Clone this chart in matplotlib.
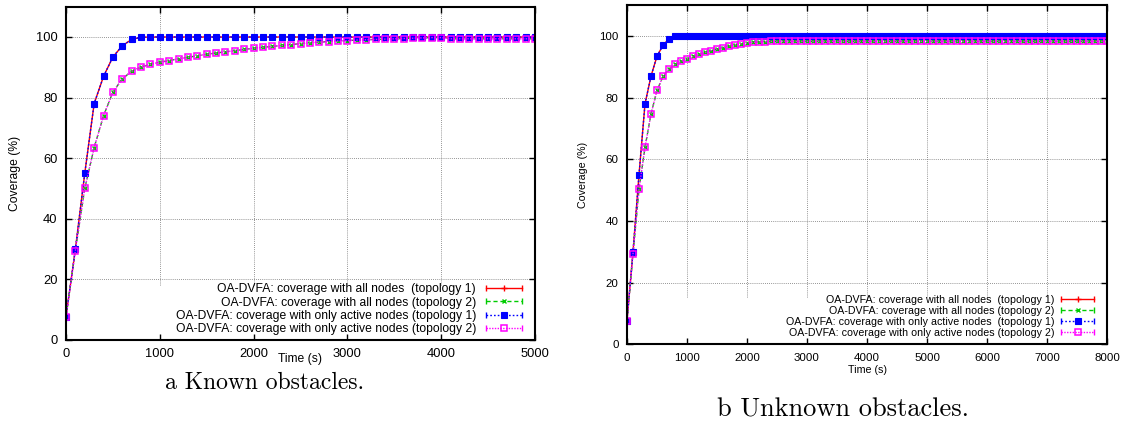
import numpy as np
import matplotlib
matplotlib.use("Agg")
import matplotlib.pyplot as plt
from matplotlib.lines import Line2D
from matplotlib.legend_handler import HandlerLine2D, HandlerTuple

plt.rcParams['font.family'] = ['Liberation Sans', 'DejaVu Sans']

# ---------------- data ----------------
time_known = np.arange(0, 5001, 100)
time_unknown = np.arange(0, 8001, 100)

known_topo1 = [7.7, 30.0, 55.0, 78.0, 87.0, 93.4, 97.1, 99.2, 99.9, 100.0,
               100.0, 100.0, 100.0, 100.0, 100.0, 100.0, 100.0, 100.0, 100.0, 100.0,
               100.0, 100.0, 100.0, 100.0, 100.0, 100.0, 100.0, 100.0, 100.0, 100.0,
               100.0, 100.0, 100.0, 100.0, 100.0, 100.0, 100.0, 100.0, 100.0, 100.0,
               100.0, 100.0, 100.0, 100.0, 100.0, 100.0, 100.0, 100.0, 100.0, 100.0,
               100.0]
known_topo2 = [7.7, 29.5, 50.0, 63.5, 74.0, 81.8, 86.2, 88.7, 90.1, 91.0,
               91.7, 92.2, 92.8, 93.3, 93.8, 94.3, 94.7, 95.1, 95.5, 95.9,
               96.3, 96.6, 96.9, 97.2, 97.5, 97.8, 98.1, 98.3, 98.5, 98.7,
               98.8, 99.0, 99.1, 99.2, 99.3, 99.4, 99.5, 99.6, 99.7, 99.8,
               99.8, 99.4, 99.4, 99.4, 99.4, 99.4, 99.4, 99.4, 99.4, 99.4,
               99.4]

unknown_topo1 = [7.7, 30.0, 55.0, 78.0, 87.0, 93.5, 97.0, 99.2, 99.9, 100.0,
                 100.0, 100.0, 100.0, 100.0, 100.0, 100.0, 100.0, 100.0, 100.0, 100.0,
                 100.0, 100.0, 100.0, 100.0, 100.0, 100.0, 100.0, 100.0, 100.0, 100.0,
                 100.0, 100.0, 100.0, 100.0, 100.0, 100.0, 100.0, 100.0, 100.0, 100.0,
                 100.0, 100.0, 100.0, 100.0, 100.0, 100.0, 100.0, 100.0, 100.0, 100.0,
                 100.0, 100.0, 100.0, 100.0, 100.0, 100.0, 100.0, 100.0, 100.0, 100.0,
                 100.0, 100.0, 100.0, 100.0, 100.0, 100.0, 100.0, 100.0, 100.0, 100.0,
                 100.0, 100.0, 100.0, 100.0, 100.0, 100.0, 100.0, 100.0, 100.0, 100.0,
                 100.0]
unknown_topo2 = [7.7, 29.3, 50.3, 63.9, 74.7, 82.4, 86.9, 89.4, 90.8, 91.8,
                 92.6, 93.4, 94.1, 94.7, 95.3, 95.8, 96.3, 96.8, 97.2, 97.5,
                 97.8, 98.0, 98.1, 98.2, 98.3, 98.3, 98.3, 98.3, 98.3, 98.3,
                 98.3, 98.3, 98.3, 98.3, 98.3, 98.3, 98.3, 98.3, 98.3, 98.3,
                 98.3, 98.3, 98.3, 98.3, 98.3, 98.3, 98.3, 98.3, 98.3, 98.3,
                 98.3, 98.3, 98.3, 98.3, 98.3, 98.3, 98.3, 98.3, 98.3, 98.3,
                 98.3, 98.3, 98.3, 98.3, 98.3, 98.3, 98.3, 98.3, 98.3, 98.3,
                 98.3, 98.3, 98.3, 98.3, 98.3, 98.3, 98.3, 98.3, 98.3, 98.3,
                 98.3]

labels_known = [
    "OA-DVFA: coverage with all nodes  (topology 1)",
    "OA-DVFA: coverage with all nodes (topology 2)",
    "OA-DVFA: coverage with only active nodes (topology 1)",
    "OA-DVFA: coverage with only active nodes (topology 2)",
]
labels_unknown = [
    "OA-DVFA: coverage with all nodes  (topology 1)",
    "OA-DVFA: coverage with all nodes (topology 2)",
    "OA-DVFA: coverage with only active nodes  (topology 1)",
    "OA-DVFA: coverage with only active nodes (topology 2)",
]
captions = ["a Known obstacles.", "b Unknown obstacles."]
yticks = [0, 20, 40, 60, 80, 100]

# ---------------- styles ----------------
RED, GREEN, BLUE, MAG = '#ff0000', '#00cc00', '#0000ff', '#ff00ff'
styles = [
    dict(color=RED, ls='-', lw=1.0, marker='+', ms=5, mew=1.0, mfc=RED),
    dict(color=GREEN, ls=(0, (3, 2)), lw=1.0, marker='x', ms=3.5, mew=1.0, mfc=GREEN),
    dict(color=BLUE, ls=(0, (1.2, 1.5)), lw=1.0, marker='s', ms=4.2, mew=0.8, mfc=BLUE),
    dict(color=MAG, ls=(0, (1, 1)), lw=1.0, marker='s', ms=4.5, mew=1.1, mfc='none'),
]

fig = plt.figure(figsize=(11.24, 4.26), dpi=100)
W, H = 1124, 426


def panel(rect, t, series, labels, xmax, xstep, fs, leg_anchor, grid_cut, hlen, htpad,
          ylpad, xlab_y):
    ax = fig.add_axes(rect)
    ax.set_xlim(0, xmax)
    ax.set_ylim(0, 110)
    xt = np.arange(0, xmax + 1, xstep)
    ax.set_xticks(xt)
    ax.set_yticks(yticks)
    # grid: horizontal full, vertical cut above the key
    for yv in yticks[1:]:
        ax.axhline(yv, color='0.45', lw=0.6, ls=(0, (1, 1.5)), zorder=0.5)
    ax.vlines(xt[1:-1], grid_cut, 110, color='0.45', lw=0.6, ls=(0, (1, 1.5)), zorder=0.5)
    handles = []
    hmap = {}
    for y, st, lab in zip(series, styles, labels):
        ax.plot(t, y, color=st['color'], ls=st['ls'], lw=st['lw'], marker=st['marker'],
                ms=st['ms'], mew=st['mew'], mfc=st['mfc'], mec=st['color'], zorder=2)
        cap = Line2D([], [], color=st['color'], ls=st['ls'], lw=st['lw'], marker='|',
                     ms=5, mew=1.0)
        mid = Line2D([], [], color=st['color'], ls='none', marker=st['marker'],
                     ms=st['ms'], mew=st['mew'], mfc=st['mfc'], mec=st['color'])
        hmap[cap] = HandlerLine2D(numpoints=2, marker_pad=0)
        hmap[mid] = HandlerLine2D(numpoints=1)
        handles.append((cap, mid))
    hmap[tuple] = HandlerTuple(ndivide=1)
    ax.legend(handles, labels, handler_map=hmap, loc='lower right',
              bbox_to_anchor=leg_anchor, frameon=False, markerfirst=False,
              fontsize=fs, borderpad=0, borderaxespad=0, labelspacing=0.1,
              handlelength=hlen, handletextpad=htpad)
    for sp in ax.spines.values():
        sp.set_linewidth(1.5)
    ax.tick_params(direction='in', length=4, width=1, top=True, right=True,
                   labelsize=fs + 0.6, pad=6)
    ax.set_xlabel("Time (s)", fontsize=fs)
    ax.xaxis.set_label_coords(0.5, xlab_y)
    ax.set_ylabel("Coverage (%)", fontsize=fs, labelpad=ylpad)
    return ax


# left panel: axes x 66..535, y 6.7..340
panel([66 / W, 1 - 340 / H, (535 - 66) / W, (340 - 6.7) / H],
      time_known, [known_topo1, known_topo2, known_topo1, known_topo2], labels_known,
      5000, 1000, 8.7, (0.972, 0.015), 18, 3.0, 0.8, 11, -0.040)

# right panel: axes x 627..1107, y 5.3..344.3
panel([627 / W, 1 - 344.3 / H, (1107 - 627) / W, (344.3 - 5.3) / H],
      time_unknown, [unknown_topo1, unknown_topo2, unknown_topo1, unknown_topo2],
      labels_unknown, 8000, 1000, 7.65, (0.9735, 0.018), 15.4, 3.1, 0.67, 8, -0.062)

fig.text(265 / W, 1 - 383 / H, captions[0], ha='center', va='center',
         fontsize=17, family='cmr10')
fig.text(843 / W, 1 - 410 / H, captions[1], ha='center', va='center',
         fontsize=19, family='cmr10')

fig.savefig("out.png", dpi=100)
